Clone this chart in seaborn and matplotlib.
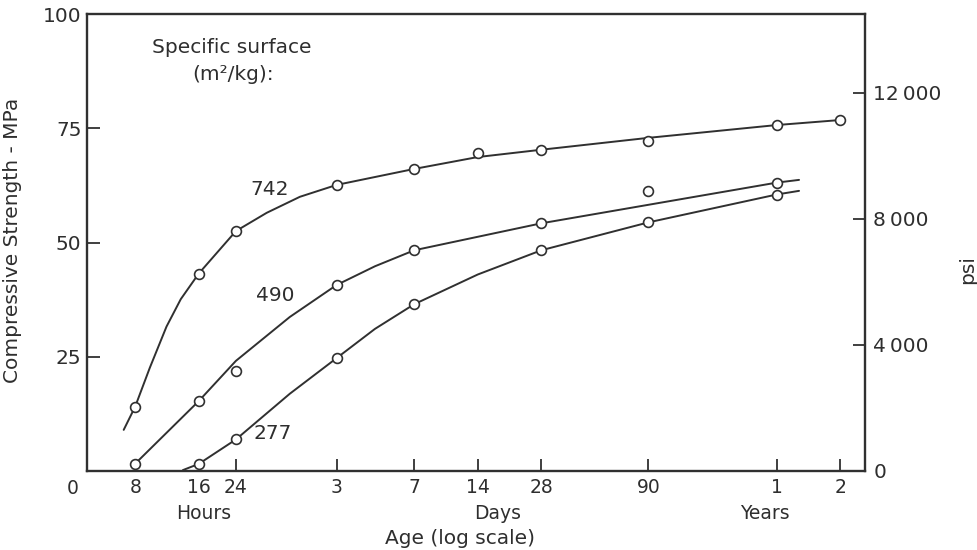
import matplotlib
matplotlib.use("Agg")
import matplotlib.pyplot as plt
import matplotlib.transforms as mtransforms
import pandas as pd
import seaborn as sns

# ---- data (age in days, strength in MPa) ----
age_742 = [1/3, 2/3, 1, 3, 7, 14, 28, 90, 365, 730]
str_742 = [14.1, 43.2, 52.5, 62.6, 66.1, 69.5, 70.3, 72.3, 75.7, 76.8]
age_490 = [1/3, 2/3, 1, 3, 7, 28, 90, 365]
str_490 = [1.6, 15.3, 21.9, 40.7, 48.3, 54.2, 61.3, 63.1]
age_277 = [2/3, 1, 3, 7, 28, 90, 365]
str_277 = [1.55, 6.9, 24.7, 36.5, 48.3, 54.4, 60.5]

# hand-drawn curves
curve_age_742 = [0.294, 1/3, 0.391, 0.469, 0.548, 2/3, 1, 1.40, 2.01, 3, 7, 14, 28, 90, 365, 730]
curve_str_742 = [9.0, 14.1, 22.6, 31.6, 37.6, 43.2, 52.5, 56.5, 60.0, 62.6, 66.1, 68.7, 70.3, 72.9, 75.7, 76.8]
curve_age_490 = [1/3, 2/3, 1, 1.80, 3, 4.56, 7, 28, 365, 466]
curve_str_490 = [1.6, 15.3, 24.1, 33.7, 40.7, 44.8, 48.3, 54.2, 63.1, 63.7]
curve_age_277 = [0.561, 2/3, 1, 1.80, 3, 4.56, 7, 14, 28, 90, 365, 466]
curve_str_277 = [0.2, 1.55, 6.9, 16.9, 24.7, 31.1, 36.5, 43.0, 48.3, 54.4, 60.5, 61.3]

series_names = ["742", "490", "277"]

x_ticks = [1/3, 2/3, 1, 3, 7, 14, 28, 90, 365, 730]
x_tick_labels = ["8", "16", "24", "3", "7", "14", "28", "90", "1", "2"]
y_ticks = [25, 50, 75, 100]
psi_ticks = [0, 4000, 8000, 12000]
psi_tick_labels = ["0", "4\u2009000", "8\u2009000", "12\u2009000"]
MPA_TO_PSI = 145.038

# ---- build tables ----
pts = pd.concat([
    pd.DataFrame({"age": age_742, "strength": str_742, "ss": "742"}),
    pd.DataFrame({"age": age_490, "strength": str_490, "ss": "490"}),
    pd.DataFrame({"age": age_277, "strength": str_277, "ss": "277"}),
], ignore_index=True)
curves = pd.concat([
    pd.DataFrame({"age": curve_age_742, "strength": curve_str_742, "ss": "742"}),
    pd.DataFrame({"age": curve_age_490, "strength": curve_str_490, "ss": "490"}),
    pd.DataFrame({"age": curve_age_277, "strength": curve_str_277, "ss": "277"}),
], ignore_index=True)

sns.set_theme(style="white")
plt.rcParams["font.family"] = ["DejaVu Sans"]
FS = 14.5
FS_X = 13.5
txt = "#2e2e2e"
ink = "#303030"

fig = plt.figure(figsize=(9.77, 5.5), dpi=100)
fig.patch.set_facecolor("white")
ax = fig.add_axes([87/977, 1 - 471/550, (865-87)/977, (471-14)/550])
ax.set_facecolor("white")

pal = {k: ink for k in series_names}
sns.lineplot(data=curves, x="age", y="strength", hue="ss", palette=pal,
             estimator=None, sort=False, units="ss", linewidth=1.4,
             legend=False, ax=ax, zorder=2)
sns.scatterplot(data=pts, x="age", y="strength", hue="ss", palette=pal,
                s=50, marker="o", legend=False, ax=ax, zorder=3)
for coll in ax.collections:
    coll.set_facecolor("white")
    coll.set_edgecolor(ink)
    coll.set_linewidth(1.2)

ax.set_xscale("log")
ax.set_xlim(0.197, 957)
ax.set_ylim(0, 100)

ax.set_xticks(x_ticks)
ax.set_xticklabels(x_tick_labels)
ax.xaxis.set_minor_locator(matplotlib.ticker.NullLocator())
ax.set_yticks(y_ticks)
ax.set_yticklabels([str(v) for v in y_ticks])

ax.tick_params(axis="both", which="major", direction="in", length=9, width=1.3,
               color=ink, labelcolor=txt, labelsize=FS)
ax.tick_params(axis="x", top=False, bottom=True, pad=5, labelsize=FS_X)
ax.tick_params(axis="y", left=True, right=False, pad=4)

for sp in ax.spines.values():
    sp.set_visible(True)
    sp.set_color(ink)
    sp.set_linewidth(1.7)

ax.set_xlabel("")
ax.set_ylabel("Compressive Strength - MPa", fontsize=FS, color=txt)
ax.yaxis.set_label_coords(-0.084, 0.505)

# secondary psi axis
ax2 = ax.twinx()
ax2.set_ylim(0, 100 * MPA_TO_PSI)
ax2.set_yticks(psi_ticks)
ax2.set_yticklabels(psi_tick_labels)
ax2.tick_params(axis="y", direction="in", length=9, width=1.3, color=ink,
                labelcolor=txt, labelsize=FS, pad=6)
for sp in ax2.spines.values():
    sp.set_visible(False)
ax2.set_ylabel("psi", fontsize=FS, color=txt)
ax2.yaxis.set_label_coords(1.12, 0.44)

# corner "0" on x axis
ax.annotate("0", xy=(0, 0), xycoords="axes fraction", xytext=(-10, -6),
            textcoords="offset points", ha="center", va="top",
            fontsize=FS_X, color=txt)

trans = mtransforms.blended_transform_factory(ax.transData, ax.transAxes)
for lab, xpos in [("Hours", 0.70), ("Days", 17.3), ("Years", 321)]:
    ax.text(xpos, -0.092, lab, transform=trans, ha="center", va="center",
            fontsize=FS_X, color=txt)
ax.text(0.479, -0.147, "Age (log scale)", transform=ax.transAxes,
        ha="center", va="center", fontsize=FS, color=txt)

ax.text(0.186, 0.926, "Specific surface", transform=ax.transAxes,
        ha="center", va="center", fontsize=FS, color=txt)
ax.text(0.188, 0.867, "(m\u00b2/kg):", transform=ax.transAxes,
        ha="center", va="center", fontsize=FS, color=txt)

label_pos = {"742": (1.45, 61.5), "490": (1.53, 38.3), "277": (1.50, 8.3)}
for name in series_names:
    xp, yp = label_pos[name]
    ax.text(xp, yp, name, ha="center", va="center", fontsize=FS,
            color=txt, zorder=4)

fig.savefig("out.png", dpi=100, facecolor="white")
